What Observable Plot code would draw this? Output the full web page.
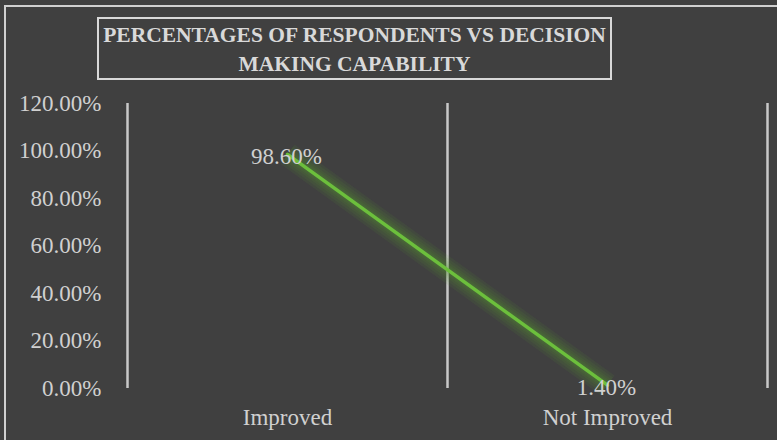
<!DOCTYPE html>
<html>
<head>
<meta charset="utf-8">
<script src="https://cdn.jsdelivr.net/npm/d3@7"></script>
<script src="https://cdn.jsdelivr.net/npm/@observablehq/plot@0.6"></script>
<style>
  html, body { margin: 0; padding: 0; background: #404040; overflow: hidden; }
  #wrap { position: relative; width: 777px; height: 440px; background: #404040; overflow: hidden; }
  .edge { position: absolute; background: #d0d0d0; pointer-events: none; }
  #edgeLeft { left: 4px; top: 5px; width: 2px; height: 435px; }
  #edgeTop { left: 4px; top: 5px; width: 773px; height: 2px; }
  #title { position: absolute; left: 97px; top: 17px; width: 515px; height: 63px; box-sizing: border-box;
           border: 2px solid #d9d9d9; color: #d9d9d9; text-align: center;
           font-family: "Liberation Serif", "Times New Roman", serif; font-weight: bold; font-size: 21.5px; line-height: 29px; padding-top: 2px; }
  #chart svg { position: absolute; left: 0; top: 0; }
</style>
</head>
<body>
<div id="wrap">
  <div id="chart"></div>
  <div class="edge" id="edgeLeft"></div>
  <div class="edge" id="edgeTop"></div>
  <div id="title">PERCENTAGES OF RESPONDENTS VS DECISION<br>MAKING CAPABILITY</div>
</div>
<script>
const categories = ["Improved", "Not Improved"];
const values = [0.986, 0.014];
const valueLabels = ["98.60%", "1.40%"];
const yTicks = [0, 0.2, 0.4, 0.6, 0.8, 1.0, 1.2];

const data = categories.map((c, i) => ({i, cat: c, value: values[i], label: valueLabels[i]}));
const boundaries = d3.range(-0.5, categories.length, 1);

const font = "Liberation Serif, Times New Roman, serif";
const textColor = "#d0d0d0";
const glowLayers = [24, 19, 14, 10, 7];
const plot = Plot.plot({
  width: 777,
  height: 440,
  marginLeft: 127,
  marginRight: 10,
  marginTop: 103,
  marginBottom: 52,
  style: {background: "#404040", color: textColor, fontFamily: font, fontSize: "23px"},
  x: {type: "linear", domain: [-0.5, categories.length - 0.5], label: null},
  y: {domain: [0, 1.2], label: null},
  marks: [
    Plot.ruleX(boundaries, {x: d => d, stroke: "#c8c8c8", strokeWidth: 2.5}),
    Plot.axisY({ticks: yTicks, tickFormat: d3.format(".2%"), tickSize: 0, tickPadding: 26, fontSize: 23, fill: textColor, label: null}),
    Plot.axisX({ticks: categories.map((c, i) => i), tickFormat: i => categories[i], tickSize: 0, tickPadding: 20, fontSize: 23, fill: textColor, label: null}),
    ...glowLayers.map(w => Plot.line(data, {x: "i", y: "value", stroke: "#5a9a30", strokeWidth: w, strokeOpacity: 0.1, strokeLinecap: "butt"})),
    Plot.line(data, {x: "i", y: "value", stroke: "#6cbf3c", strokeWidth: 3.5}),
    Plot.text(data, {x: "i", y: "value", text: "label", fill: textColor, fontSize: 23, dx: -1, dy: 2})
  ]
});
document.getElementById("chart").appendChild(plot);
</script>
</body>
</html>
